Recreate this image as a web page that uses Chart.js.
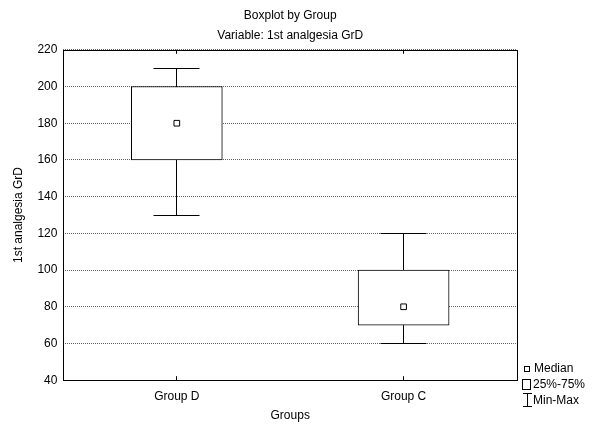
<!DOCTYPE html>
<html>
<head>
<meta charset="utf-8">
<script src="https://cdn.jsdelivr.net/npm/chart.js@4"></script>
<style>
  html, body { margin: 0; padding: 0; background: #fff; }
  #wrap { width: 603px; height: 424px; }
</style>
</head>
<body>
<div id="wrap"><canvas id="grafico" width="603" height="424"></canvas></div>
<script>
// datos
const grupos = ["Group D", "Group C"];
const minimos = [130, 60];
const q1 = [160, 70];
const medianas = [180, 80];
const q3 = [200, 100];
const maximos = [210, 120];
const yMin = 40, yMax = 220, yPaso = 20;
const leyenda = ["Median", "25%-75%", "Min-Max"];

const fuente = "'Liberation Sans', Arial, sans-serif";
Chart.defaults.font.family = fuente;
Chart.defaults.font.size = 12;
Chart.defaults.color = "#000";

// bigotes (min-max) con las escalas del grafico, antes de las cajas
const bigotes = {
  id: "bigotes",
  beforeDatasetsDraw(chart) {
    const { ctx } = chart;
    const x = chart.scales.x, y = chart.scales.y;
    ctx.save();
    ctx.strokeStyle = "#000";
    ctx.lineWidth = 1;
    grupos.forEach((g, i) => {
      const px = Math.floor(x.getPixelForValue(i)) + 0.5;
      const yLo = Math.round(y.getPixelForValue(minimos[i])) + 0.5;
      const yHi = Math.round(y.getPixelForValue(maximos[i])) + 0.5;
      ctx.beginPath();
      ctx.moveTo(px, yLo); ctx.lineTo(px, yHi);
      ctx.moveTo(px - 23, yLo); ctx.lineTo(px + 23, yLo);
      ctx.moveTo(px - 23, yHi); ctx.lineTo(px + 23, yHi);
      ctx.stroke();
    });
    ctx.restore();
  }
};

// marco completo, marcas de categoria y leyenda
const extras = {
  id: "extras",
  afterDraw(chart) {
    const { ctx, chartArea: a } = chart;
    const x = chart.scales.x;
    ctx.save();
    ctx.strokeStyle = "#000";
    ctx.lineWidth = 1;
    ctx.strokeRect(Math.round(a.left) + 0.5, Math.round(a.top) + 0.5,
      Math.round(a.right - a.left), Math.round(a.bottom - a.top));
    grupos.forEach((g, i) => {
      const px = Math.floor(x.getPixelForValue(i)) + 0.5;
      ctx.beginPath();
      ctx.moveTo(px, a.top); ctx.lineTo(px, a.top + 4);
      ctx.moveTo(px, a.bottom); ctx.lineTo(px, a.bottom - 4);
      ctx.stroke();
    });

    // leyenda
    const lx = Math.round(a.right) + 10;
    const b = Math.round(a.bottom);
    ctx.font = "12px " + fuente;
    ctx.fillStyle = "#000";
    ctx.textBaseline = "middle";
    ctx.textAlign = "left";
    ctx.strokeRect(lx - 2.5, b - 13.5, 5, 5);
    ctx.fillText(leyenda[0], lx + 7, b - 11);
    ctx.strokeRect(lx - 4.5, b - 0.5, 8, 10);
    ctx.fillText(leyenda[1], lx + 6, b + 5);
    ctx.beginPath();
    ctx.moveTo(lx - 4, b + 13.5); ctx.lineTo(lx + 5, b + 13.5);
    ctx.moveTo(lx + 0.5, b + 13.5); ctx.lineTo(lx + 0.5, b + 26.5);
    ctx.moveTo(lx - 4, b + 26.5); ctx.lineTo(lx + 5, b + 26.5);
    ctx.stroke();
    ctx.fillText(leyenda[2], lx + 6, b + 21);
    ctx.restore();
  }
};

new Chart(document.getElementById("grafico"), {
  data: {
    labels: grupos,
    datasets: [
      {
        type: "bar",
        label: "25%-75%",
        data: q1.map((v, i) => [v, q3[i]]),
        backgroundColor: "#fff",
        borderColor: "#000",
        borderWidth: 1,
        borderSkipped: false,
        barThickness: 91,
        grouped: false,
        order: 2
      },
      {
        type: "line",
        label: "Median",
        data: medianas,
        showLine: false,
        pointStyle: "rect",
        pointRadius: 4,
        pointBackgroundColor: "#fff",
        pointBorderColor: "#000",
        pointBorderWidth: 1,
        order: 1
      }
    ]
  },
  options: {
    responsive: false,
    animation: false,
    layout: { padding: { right: 86, left: 7, bottom: 0 } },
    plugins: {
      legend: { display: false },
      tooltip: { enabled: false },
      title: {
        display: true,
        text: "Boxplot by Group",
        fullSize: false,
        font: { size: 12, weight: "normal" },
        padding: { top: 8, bottom: 4 }
      },
      subtitle: {
        display: true,
        text: "Variable: 1st analgesia GrD",
        fullSize: false,
        font: { size: 12 },
        padding: { top: 2, bottom: 7 }
      }
    },
    scales: {
      x: {
        type: "category",
        offset: true,
        grid: { display: false, drawTicks: false },
        border: { display: false },
        ticks: { padding: 9 },
        title: { display: true, text: "Groups", padding: { top: -4, bottom: 1 } }
      },
      y: {
        min: yMin,
        max: yMax,
        ticks: { stepSize: yPaso, padding: 6 },
        grid: { color: "#666", lineWidth: 1, drawTicks: false },
        border: { display: false, dash: [1, 1] },
        title: { display: true, text: "1st analgesia GrD", padding: { bottom: 6 } }
      }
    }
  },
  plugins: [bigotes, extras]
});
</script>
</body>
</html>
